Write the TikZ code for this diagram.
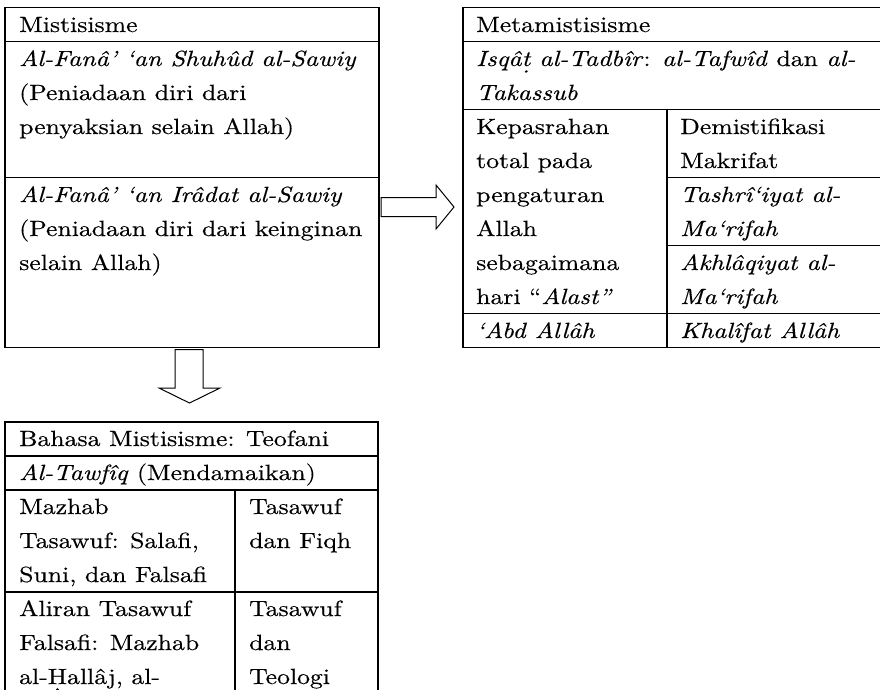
\documentclass[tikz,border=0pt]{standalone}
\usepackage{fontspec}
\setmainfont{lmroman10-regular.otf}[ItalicFont=lmroman10-italic.otf, BoldFont=lmroman10-bold.otf, FakeStretch=1.17, FakeBold=0.4]
\newcommand\dotbl[1]{\mbox{\ooalign{#1\cr\hidewidth\raisebox{-0.7ex}{.}\hidewidth\cr}}}
\tikzset{
  tbl/.style={line width=1.8pt},
  txt/.style={anchor=base west, inner sep=0pt, align=left, font=\fontsize{22}{34}\selectfont},
  blockarrow/.style={draw, line width=1pt, fill=white, line join=miter}
}
\begin{document}
\begin{tikzpicture}[x=1pt,y=-1pt]
\useasboundingbox (0,0) rectangle (880,689);
\clip (0,0) rectangle (880,689);
\fill[white] (0,0) rectangle (880,689);

% left table (multi-line nodes are placed by the baseline of their last line)
\draw[tbl] (5,7.5) rectangle (379,347.5);
\draw[tbl] (5,41.5) -- (379,41.5);
\draw[tbl] (5,177.5) -- (379,177.5);
\node[txt] (mist) at (19,32) {Mistisisme};
\node[txt] (fana1) at (19,134) {\textit{Al-Fanâ’ ‘an Shuhûd al-Sawiy}\\(Peniadaan diri dari\\penyaksian selain Allah)};
\node[txt] (fana2) at (19,270) {\textit{Al-Fanâ’ ‘an Irâdat al-Sawiy}\\(Peniadaan diri dari keinginan\\selain Allah)};

% right table
\draw[tbl] (890,7.5) -- (463,7.5) -- (463,347.5) -- (890,347.5);
\draw[tbl] (463,41.5) -- (890,41.5);
\draw[tbl] (463,109.5) -- (890,109.5);
\draw[tbl] (463,313.5) -- (890,313.5);
\draw[tbl] (667,109.5) -- (667,347.5);
\draw[tbl] (667,177.5) -- (890,177.5);
\draw[tbl] (667,245.5) -- (890,245.5);
\node[txt] (meta) at (476,32) {Metamistisisme};
\node[txt] (isqat) at (476,100) {\textit{Isqâ\dotbl{t} al-Tadbîr}: \textit{al-Tafwîd} dan \textit{al-}\\\textit{Takassub}};
\node[txt] (kepas) at (476,304) {Kepasrahan\\total pada\\pengaturan\\Allah\\sebagaimana\\hari “\textit{Alast”}};
\node[txt] (demis) at (680,168) {Demistifikasi\\Makrifat};
\node[txt] (tashri) at (680,236) {\textit{Tashrî‘iyat al-}\\\textit{Ma‘rifah}};
\node[txt] (akhla) at (680,304) {\textit{Akhlâqiyat al-}\\\textit{Ma‘rifah}};
\node[txt] (abd) at (476,338) {\textit{‘Abd Allâh}};
\node[txt] (khal) at (680,338) {\textit{Khalîfat Allâh}};

% bottom table
\draw[tbl] (5,700) -- (5,422) -- (378,422) -- (378,700);
\draw[tbl] (5,456) -- (378,456);
\draw[tbl] (5,490) -- (378,490);
\draw[tbl] (5,592) -- (378,592);
\draw[tbl] (235,490) -- (235,700);
\node[txt] (bahasa) at (19,446) {Bahasa Mistisisme: Teofani};
\node[txt] (tawfiq) at (19,480) {\textit{Al-Tawfîq} (Mendamaikan)};
\node[txt] (mazhab) at (19,582) {Mazhab\\Tasawuf: Salafi,\\Suni, dan Falsafi};
\node[txt] (tfiqh) at (249,548) {Tasawuf\\dan Fiqh};
\node[txt] (aliran) at (19,684) {Aliran Tasawuf\\Falsafi: Mazhab\\al-\dotbl{H}allâj, al-};
\node[txt] (tteo) at (249,684) {Tasawuf\\dan\\Teologi};

% block arrows
\draw[blockarrow] (381,197.5) -- (436,197.5) -- (436,185) -- (454,207) -- (436,229) -- (436,216.5) -- (381,216.5) -- cycle;
\draw[blockarrow] (175,349.5) -- (175,388) -- (159,388) -- (189.5,403) -- (220,388) -- (203,388) -- (203,349.5) -- cycle;
\end{tikzpicture}
\end{document}
